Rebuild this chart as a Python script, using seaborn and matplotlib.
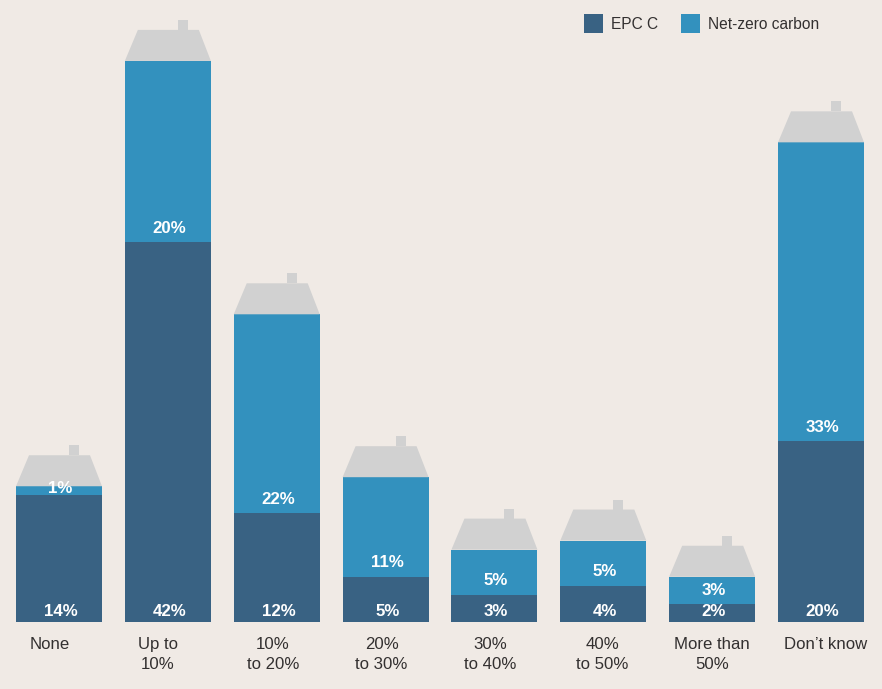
import matplotlib
matplotlib.use("Agg")
import matplotlib.pyplot as plt
from matplotlib.patches import Polygon, Rectangle
from matplotlib.transforms import ScaledTranslation
import pandas as pd
import seaborn as sns

categories = ["None", "Up to\n10%", "10%\nto 20%", "20%\nto 30%", "30%\nto 40%",
              "40%\nto 50%", "More than\n50%", "Don\u2019t know"]
epc_c = [14, 42, 12, 5, 3, 4, 2, 20]
net_zero = [1, 20, 22, 11, 5, 5, 3, 33]

BACKGROUND = "#F0EAE5"
DARK_BLUE = "#396283"
LIGHT_BLUE = "#3391BE"
ROOF_GREY = "#D1D1D1"
TEXT_COLOUR = "#333030"

sns.set_theme(style="white")
plt.rcParams["font.family"] = ["Liberation Sans", "DejaVu Sans"]

W, H, BASE_Y, PX_PER_PCT, PITCH = 882, 689, 622, 9.05, 108.86
fig = plt.figure(figsize=(W / 100, H / 100), dpi=100, facecolor=BACKGROUND)
ax = fig.add_axes([0, (H - BASE_Y) / H, 1, BASE_Y / H], facecolor=BACKGROUND)

df = pd.DataFrame({"category": categories, "epc": epc_c, "net": net_zero})
bar_width = 86 / PITCH

sns.barplot(data=df, x="category", y="epc", color=DARK_BLUE, saturation=1,
            width=bar_width, label="EPC C", ax=ax, linewidth=0)
sns.barplot(data=df, x="category", y="net", bottom=df["epc"], color=LIGHT_BLUE,
            saturation=1, width=bar_width, label="Net-zero carbon", ax=ax, linewidth=0)

ax.set_xlim(-59 / PITCH, (W - 59) / PITCH)
ax.set_ylim(0, BASE_Y / PX_PER_PCT)
ax.set_xlabel("")
ax.set_ylabel("")
ax.set_yticks([])
sns.despine(ax=ax, left=True, bottom=True)
ax.tick_params(axis="x", length=0, pad=10.5, labelsize=12.1, labelcolor=TEXT_COLOUR)

# Nudge the category captions sideways relative to their bars
caption_shift_px = [-9, -10, -4, -4, -4, -1, 0, 5]
for tick, shift in zip(ax.get_xticklabels(), caption_shift_px):
    tick.set_transform(tick.get_transform() + ScaledTranslation(shift / 100, 0, fig.dpi_scale_trans))
    tick.set_linespacing(1.45)

# A house roof and chimney sit on top of each stacked bar
px_x = 1 / PITCH
px_y = 1 / PX_PER_PCT
half = bar_width / 2
for i, (a, b) in enumerate(zip(epc_c, net_zero)):
    top = a + b
    roof_top = top + 31 * px_y
    ax.add_patch(Polygon([(i - half, top), (i + half, top),
                          (i + half - 12 * px_x, roof_top), (i - half + 13 * px_x, roof_top)],
                         closed=True, facecolor=ROOF_GREY, edgecolor="none", zorder=3))
    ax.add_patch(Rectangle((i + 10 * px_x, roof_top), 10 * px_x, 10 * px_y,
                           facecolor=ROOF_GREY, edgecolor="none", zorder=3))

    label_style = dict(ha="center", va="center", color="white", fontsize=12.2,
                       fontweight="bold", zorder=4)
    ax.annotate(f"{a}%", (i, 0), xytext=(1.2, 7.5), textcoords="offset points", **label_style)
    ax.annotate(f"{b}%", (i, a), xytext=(1.2, 10 if b > 1 else 5),
                textcoords="offset points", **label_style)

ax.legend(loc="upper left", bbox_to_anchor=(584 / W, 1 - 14 / BASE_Y), ncol=2, frameon=False,
          fontsize=11.2, labelcolor=TEXT_COLOUR, handlelength=1.22, handleheight=1.5,
          handletextpad=0.5, columnspacing=1.47, borderpad=0, borderaxespad=0)

fig.savefig("out.png", dpi=100, facecolor=BACKGROUND)
